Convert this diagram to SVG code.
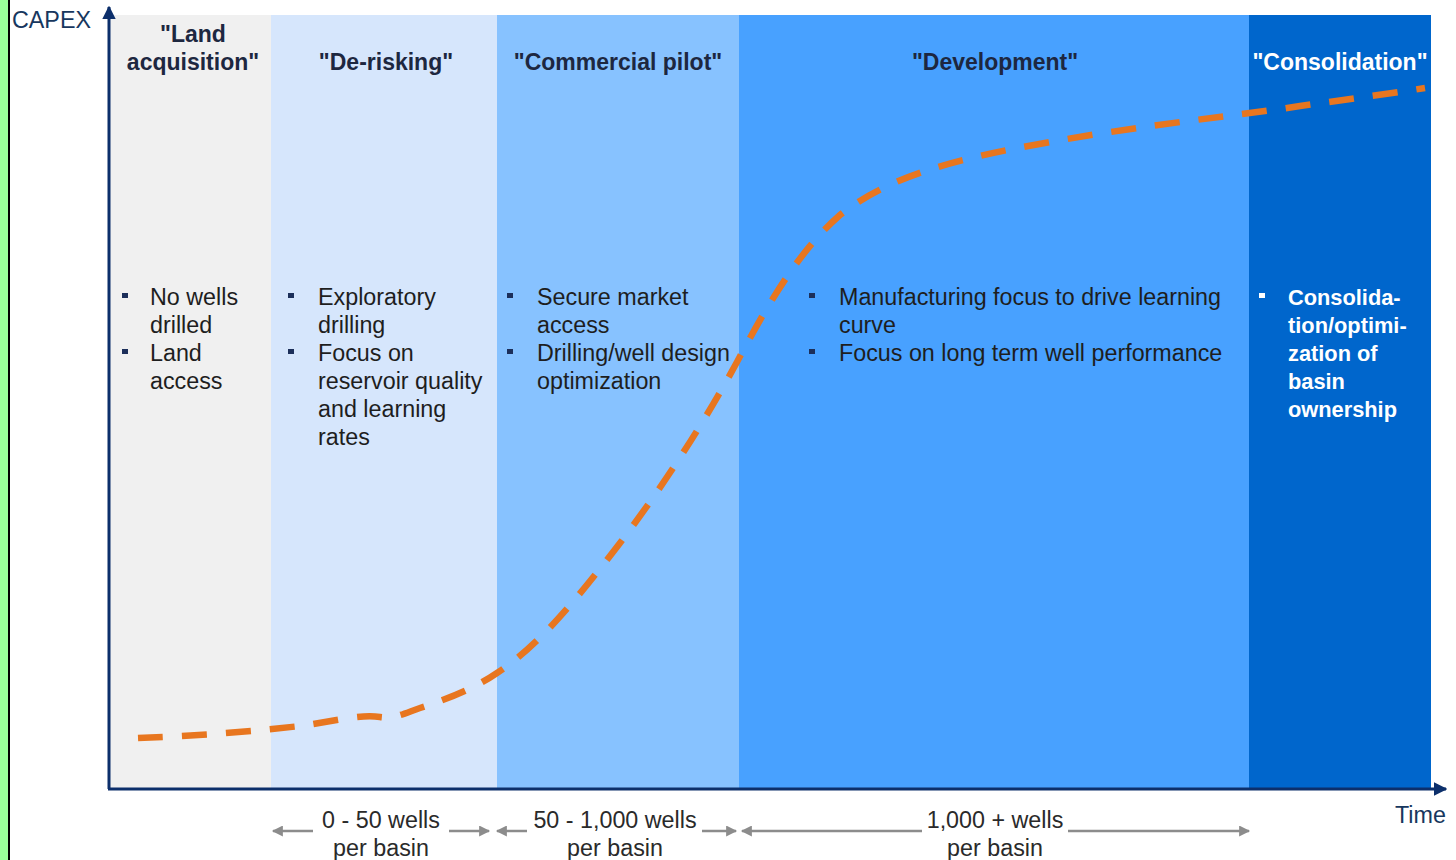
<svg xmlns="http://www.w3.org/2000/svg" width="1456" height="860" viewBox="0 0 1456 860">
  <defs>
    <style>
      text { font-family: "Liberation Sans", Arial, sans-serif; font-size: 23.3px; }
      .title { font-weight: bold; fill: #1d2740; text-anchor: middle; font-size: 23px; }
      .title-w { font-weight: bold; fill: #ffffff; text-anchor: middle; font-size: 23px; }
      .body { fill: #1e1e1e; }
      .body-w { fill: #ffffff; font-weight: bold; font-size: 21.8px; }
      .axis-label { fill: #17375e; }
      .range { fill: #2a2a2a; text-anchor: middle; }
      .axis { stroke: #0c2f6b; stroke-width: 3; fill: none; }
      .span { stroke: #8c8c8c; stroke-width: 2.5; fill: none; }
      .bullet { fill: #1c2f5a; }
      .curve { stroke: #e8761f; stroke-width: 6.5; fill: none; stroke-dasharray: 25 19; }
    </style>
    <marker id="axisHead" viewBox="0 0 10 10" refX="9" refY="5" markerWidth="4.5" markerHeight="4.5" orient="auto-start-reverse" markerUnits="strokeWidth">
      <path d="M0,0 L10,5 L0,10 z" fill="#0c2f6b"/>
    </marker>
    <marker id="spanHead" viewBox="0 0 10 10" refX="9" refY="5" markerWidth="5" markerHeight="4.4" orient="auto-start-reverse" markerUnits="strokeWidth">
      <path d="M0,0 L10,5 L0,10 z" fill="#8c8c8c"/>
    </marker>
  </defs>

  <!-- page background and left margin strip -->
  <rect x="0" y="0" width="1456" height="860" fill="#ffffff"/>
  <rect x="0" y="0" width="8" height="860" fill="#99ff99"/>
  <rect x="8" y="0" width="2" height="860" fill="#000000"/>

  <!-- phase: land acquisition -->
  <g id="phase-land-acquisition">
    <rect x="110" y="15" width="161" height="773" fill="#f0f0f0"/>
    <text class="title" x="193" y="42">"Land</text>
    <text class="title" x="193" y="70">acquisition"</text>
    <rect class="bullet" x="122" y="293" width="6" height="5"/>
    <rect class="bullet" x="122" y="349" width="6" height="5"/>
    <text class="body" x="150" y="305">No wells</text>
    <text class="body" x="150" y="333">drilled</text>
    <text class="body" x="150" y="361">Land</text>
    <text class="body" x="150" y="389">access</text>
  </g>

  <!-- phase: de-risking -->
  <g id="phase-de-risking">
    <rect x="271" y="15" width="226" height="773" fill="#d6e6fc"/>
    <text class="title" x="386" y="70">"De-risking"</text>
    <rect class="bullet" x="288" y="293" width="6" height="5"/>
    <rect class="bullet" x="288" y="349" width="6" height="5"/>
    <text class="body" x="318" y="305">Exploratory</text>
    <text class="body" x="318" y="333">drilling</text>
    <text class="body" x="318" y="361">Focus on</text>
    <text class="body" x="318" y="389">reservoir quality</text>
    <text class="body" x="318" y="417">and learning</text>
    <text class="body" x="318" y="445">rates</text>
  </g>

  <!-- phase: commercial pilot -->
  <g id="phase-commercial-pilot">
    <rect x="497" y="15" width="242" height="773" fill="#87c2ff"/>
    <text class="title" x="618" y="70">"Commercial pilot"</text>
    <rect class="bullet" x="507" y="293" width="6" height="5"/>
    <rect class="bullet" x="507" y="349" width="6" height="5"/>
    <text class="body" x="537" y="305">Secure market</text>
    <text class="body" x="537" y="333">access</text>
    <text class="body" x="537" y="361">Drilling/well design</text>
    <text class="body" x="537" y="389">optimization</text>
  </g>

  <!-- phase: development -->
  <g id="phase-development">
    <rect x="739" y="15" width="510" height="773" fill="#48a1ff"/>
    <text class="title" x="995" y="70">"Development"</text>
    <rect class="bullet" x="809" y="293" width="6" height="5"/>
    <rect class="bullet" x="809" y="349" width="6" height="5"/>
    <text class="body" x="839" y="305">Manufacturing focus to drive learning</text>
    <text class="body" x="839" y="333">curve</text>
    <text class="body" x="839" y="361">Focus on long term well performance</text>
  </g>

  <!-- phase: consolidation -->
  <g id="phase-consolidation">
    <rect x="1249" y="15" width="182" height="773" fill="#0066cc"/>
    <text class="title-w" x="1340" y="70">"Consolidation"</text>
    <rect x="1259" y="293" width="6" height="5" fill="#ffffff"/>
    <text class="body-w" x="1288" y="305">Consolida-</text>
    <text class="body-w" x="1288" y="333">tion/optimi-</text>
    <text class="body-w" x="1288" y="361">zation of</text>
    <text class="body-w" x="1288" y="389">basin</text>
    <text class="body-w" x="1288" y="417">ownership</text>
  </g>

  <!-- CAPEX growth curve -->
  <g id="capex-curve">
    <path class="curve" d="M138,738 C190,736 250,732 300,726 C335,721 360,714 380,717 C395,719 405,713 420,708 C450,698 475,688 497,673 C540,645 580,595 620,543 C660,490 700,430 737,362 C770,300 800,250 840,215 C890,175 960,158 1050,142 C1150,124 1250,114 1300,106 C1350,99 1400,92 1425,88"/>
  </g>

  <!-- axes and well-count spans -->
  <g id="connectors">
    <path class="axis" d="M109,789 L109,7" marker-end="url(#axisHead)"/>
    <path class="axis" d="M108,789 L1446,789" marker-end="url(#axisHead)"/>
    <path class="span" d="M313,831 L273,831" marker-end="url(#spanHead)"/>
    <path class="span" d="M449,831 L489,831" marker-end="url(#spanHead)"/>
    <path class="span" d="M527,831 L497,831" marker-end="url(#spanHead)"/>
    <path class="span" d="M702,831 L736,831" marker-end="url(#spanHead)"/>
    <path class="span" d="M922,831 L742,831" marker-end="url(#spanHead)"/>
    <path class="span" d="M1068,831 L1249,831" marker-end="url(#spanHead)"/>
  </g>

  <!-- axis labels -->
  <text class="axis-label" x="12" y="28">CAPEX</text>
  <text class="axis-label" x="1395" y="823">Time</text>

  <!-- well-count range labels -->
  <g id="range-labels">
    <text class="range" x="381" y="828">0 - 50 wells</text>
    <text class="range" x="381" y="856">per basin</text>
    <text class="range" x="615" y="828">50 - 1,000 wells</text>
    <text class="range" x="615" y="856">per basin</text>
    <text class="range" x="995" y="828">1,000 + wells</text>
    <text class="range" x="995" y="856">per basin</text>
  </g>
</svg>
